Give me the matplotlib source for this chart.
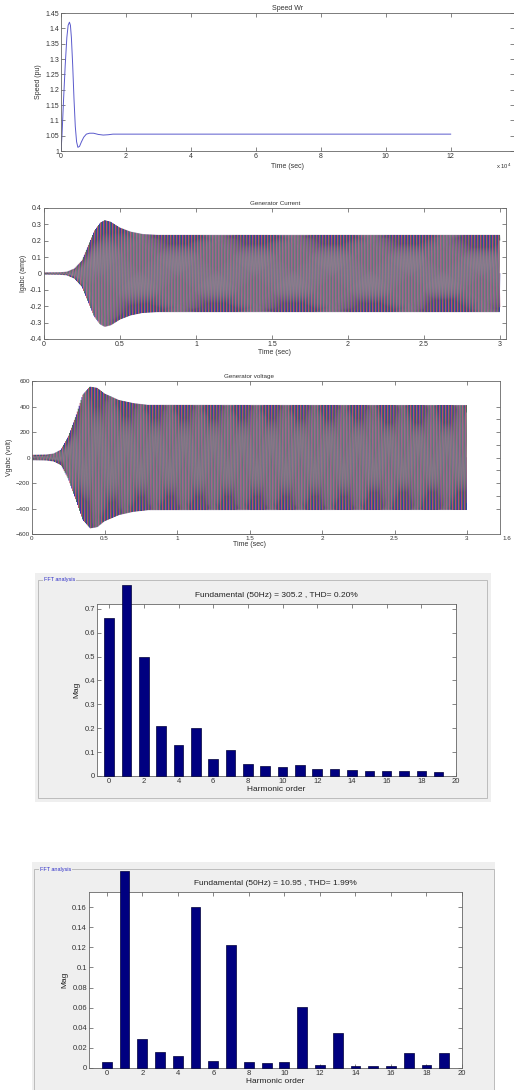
import numpy as np
import matplotlib
matplotlib.use("Agg")
import matplotlib.pyplot as plt
from matplotlib.patches import Rectangle

# ---- data ----
# rotor speed (pu) vs time (x 10^4 on the axis)
speed_t = [0, 0.03, 0.08, 0.13, 0.18, 0.22, 0.26, 0.29, 0.32, 0.36, 0.40, 0.44,
           0.48, 0.52, 0.57, 0.63, 0.70, 0.78, 0.88, 1.0, 1.15, 1.3, 1.45, 1.6, 12.0]
speed_v = [1.0, 1.05, 1.17, 1.28, 1.37, 1.41, 1.42, 1.41, 1.37, 1.28, 1.17, 1.08,
           1.03, 1.012, 1.015, 1.03, 1.045, 1.055, 1.058, 1.058, 1.054, 1.052,
           1.053, 1.055, 1.055]

# envelope of the three phase generator current (amp)
cur_env_t = [0, 0.1, 0.15, 0.2, 0.25, 0.29, 0.33, 0.37, 0.40, 0.44, 0.50, 0.57, 0.65, 0.75, 3.0]
cur_env_a = [0.005, 0.006, 0.01, 0.03, 0.08, 0.17, 0.26, 0.31, 0.325, 0.315, 0.28,
             0.255, 0.24, 0.235, 0.235]

# envelope of the three phase generator voltage (volt)
volt_env_t = [0, 0.1, 0.15, 0.2, 0.25, 0.3, 0.35, 0.4, 0.45, 0.5, 0.6, 0.7, 0.8, 3.0]
volt_env_a = [20, 22, 30, 60, 165, 320, 490, 555, 545, 500, 450, 425, 412, 410]

f_grid = 50.0      # Hz

# FFT results
orders = list(range(20))
mag_v = [0.66, 0.80, 0.50, 0.21, 0.13, 0.20, 0.07, 0.11, 0.05, 0.042,
         0.037, 0.045, 0.03, 0.03, 0.026, 0.023, 0.023, 0.022, 0.02, 0.018]
mag_i = [0.006, 0.196, 0.029, 0.016, 0.012, 0.160, 0.007, 0.122, 0.006, 0.005,
         0.006, 0.061, 0.003, 0.035, 0.002, 0.002, 0.002, 0.015, 0.003, 0.015]

W, H = 514, 1090
fig = plt.figure(figsize=(W / 100, H / 100), dpi=100)
fig.patch.set_facecolor("white")
plt.rcParams['font.family'] = ['Liberation Sans', 'DejaVu Sans']

TXT = '#333333'


def px_axes(l, t, r, b, **kw):
    return fig.add_axes([l / W, 1 - b / H, (r - l) / W, (b - t) / H], **kw)


def matlab_style(ax, fs=5):
    ax.tick_params(direction='in', length=3, width=0.5, labelsize=fs,
                   colors='#555555', labelcolor=TXT, top=True, right=True,
                   pad=1.5)
    for s in ax.spines.values():
        s.set_linewidth(0.6)
        s.set_color('#666666')


def fmt(v):
    return '%g' % (round(v, 4) + 0.0)


# ---- panel 1: speed ----
ax1 = px_axes(61, 13, 514, 151)
ax1.plot(speed_t, speed_v, color='#5a5acc', lw=0.7)
ax1.set_xlim(0, 13.95)
ax1.set_ylim(1.0, 1.45)
ax1.set_xticks(range(0, 13, 2))
yt = np.arange(1.0, 1.451, 0.05)
ax1.set_yticks(yt)
ax1.set_yticklabels([fmt(v) for v in yt])
matlab_style(ax1)
ax1.set_title('Speed Wr', fontsize=5, color=TXT, pad=2)
ax1.set_xlabel('Time (sec)', fontsize=5, color=TXT, labelpad=2)
ax1.set_ylabel('Speed (pu)', fontsize=5, color=TXT, labelpad=2)
fig.text(496 / W, 1 - 166 / H, 'x 10$^4$', fontsize=4.2, color=TXT, va='center')

phase_cols = ['#3a3aa8', '#b85070', '#4c6a5a']


def three_phase(ax, env_t, env_a):
    t = np.linspace(0, 3.0, 9000)
    amp = np.interp(t, env_t, env_a)
    for k, c in enumerate(phase_cols):
        ax.plot(t, amp * np.sin(2 * np.pi * f_grid * t - k * 2 * np.pi / 3),
                color=c, lw=0.45)


# ---- panel 2: current ----
ax2 = px_axes(44, 208, 506, 339)
three_phase(ax2, cur_env_t, cur_env_a)
ax2.set_xlim(0, 3.04)
ax2.set_ylim(-0.4, 0.4)
ax2.set_xticks(np.arange(0, 3.01, 0.5))
ax2.set_xticklabels([fmt(v) for v in np.arange(0, 3.01, 0.5)])
yt = np.arange(-0.4, 0.401, 0.1)
ax2.set_yticks(yt)
ax2.set_yticklabels([fmt(v) for v in yt])
matlab_style(ax2)
ax2.set_title('Generator Current', fontsize=4.5, color=TXT, pad=2)
ax2.set_xlabel('Time (sec)', fontsize=5, color=TXT, labelpad=1)
ax2.set_ylabel('Igabc (amp)', fontsize=5, color=TXT, labelpad=2)

# ---- panel 3: voltage ----
ax3b = px_axes(32, 381, 500, 534)
ax3b.set_xlim(0, 1)
ax3b.set_ylim(-600, 600)
ax3b.set_xticks([])
ax3b.set_yticks(np.arange(-400, 401, 100))
ax3b.tick_params(direction='in', length=3, width=0.5, left=False, labelleft=False,
                 right=True, colors='#555555')
for s in ax3b.spines.values():
    s.set_linewidth(0.6)
    s.set_color('#666666')
fig.text(502 / W, 1 - 539 / H, '1.6', fontsize=4.5, color=TXT, va='center')

ax3 = px_axes(32, 381, 467, 534)
three_phase(ax3, volt_env_t, volt_env_a)
ax3.set_xlim(0, 3.0)
ax3.set_ylim(-600, 600)
ax3.set_xticks(np.arange(0, 3.01, 0.5))
ax3.set_xticklabels([fmt(v) for v in np.arange(0, 3.01, 0.5)])
ax3.set_yticks(np.arange(-600, 601, 200))
matlab_style(ax3, fs=4.5)
ax3.tick_params(right=False)
ax3.spines['right'].set_visible(False)
ax3.set_title('Generator voltage', fontsize=4.5, color=TXT, pad=2)
ax3.set_xlabel('Time (sec)', fontsize=5, color=TXT, labelpad=0)
ax3.set_ylabel('Vgabc (volt)', fontsize=5, color=TXT, labelpad=2)


# ---- FFT panels ----
def fft_panel(bg, frame, box, mags, xlim, ylim, yticks, title):
    bx0, by0, bx1, by1 = bg
    fig.add_artist(Rectangle((bx0 / W, 1 - by1 / H), (bx1 - bx0) / W, (by1 - by0) / H,
                             transform=fig.transFigure, facecolor='#efefef',
                             edgecolor='none', zorder=0))
    fx0, fy0, fx1, fy1 = frame
    fig.add_artist(Rectangle((fx0 / W, 1 - fy1 / H), (fx1 - fx0) / W, (fy1 - fy0) / H,
                             transform=fig.transFigure, facecolor='none',
                             edgecolor='#b4b4b4', lw=0.6, zorder=1))
    fig.text((fx0 + 6) / W, 1 - fy0 / H, 'FFT analysis', fontsize=4, color='#3030c8',
             va='center', zorder=2,
             bbox=dict(facecolor='#efefef', edgecolor='none', pad=0.5))
    ax = px_axes(*box)
    ax.bar(orders, mags, width=0.55, color='#000080', edgecolor='#00003a',
           lw=0.5, clip_on=False, zorder=3)
    ax.set_xlim(*xlim)
    ax.set_ylim(*ylim)
    ax.set_xticks(range(0, 21, 2))
    ax.set_yticks(yticks)
    ax.set_yticklabels([fmt(v) for v in yticks])
    matlab_style(ax, fs=5.5)
    ax.set_title(title, fontsize=6, color='#222222', pad=5)
    ax.set_xlabel('Harmonic order', fontsize=6, color='#222222', labelpad=1)
    ax.set_ylabel('Mag', fontsize=6, color='#222222', labelpad=3)
    return ax


fft_panel((35, 573, 491, 802), (38, 580, 487, 798), (97, 604, 456, 776),
          mag_v, (-0.7, 20), (0, 0.72), np.arange(0, 0.71, 0.1),
          'Fundamental (50Hz) = 305.2 , THD= 0.20%')

fft_panel((32, 862, 495, 1095), (34, 869, 494, 1100), (89, 892, 462, 1068),
          mag_i, (-1.0, 20), (0, 0.175), np.arange(0, 0.161, 0.02),
          'Fundamental (50Hz) = 10.95 , THD= 1.99%')

fig.savefig('out.png', dpi=100)
